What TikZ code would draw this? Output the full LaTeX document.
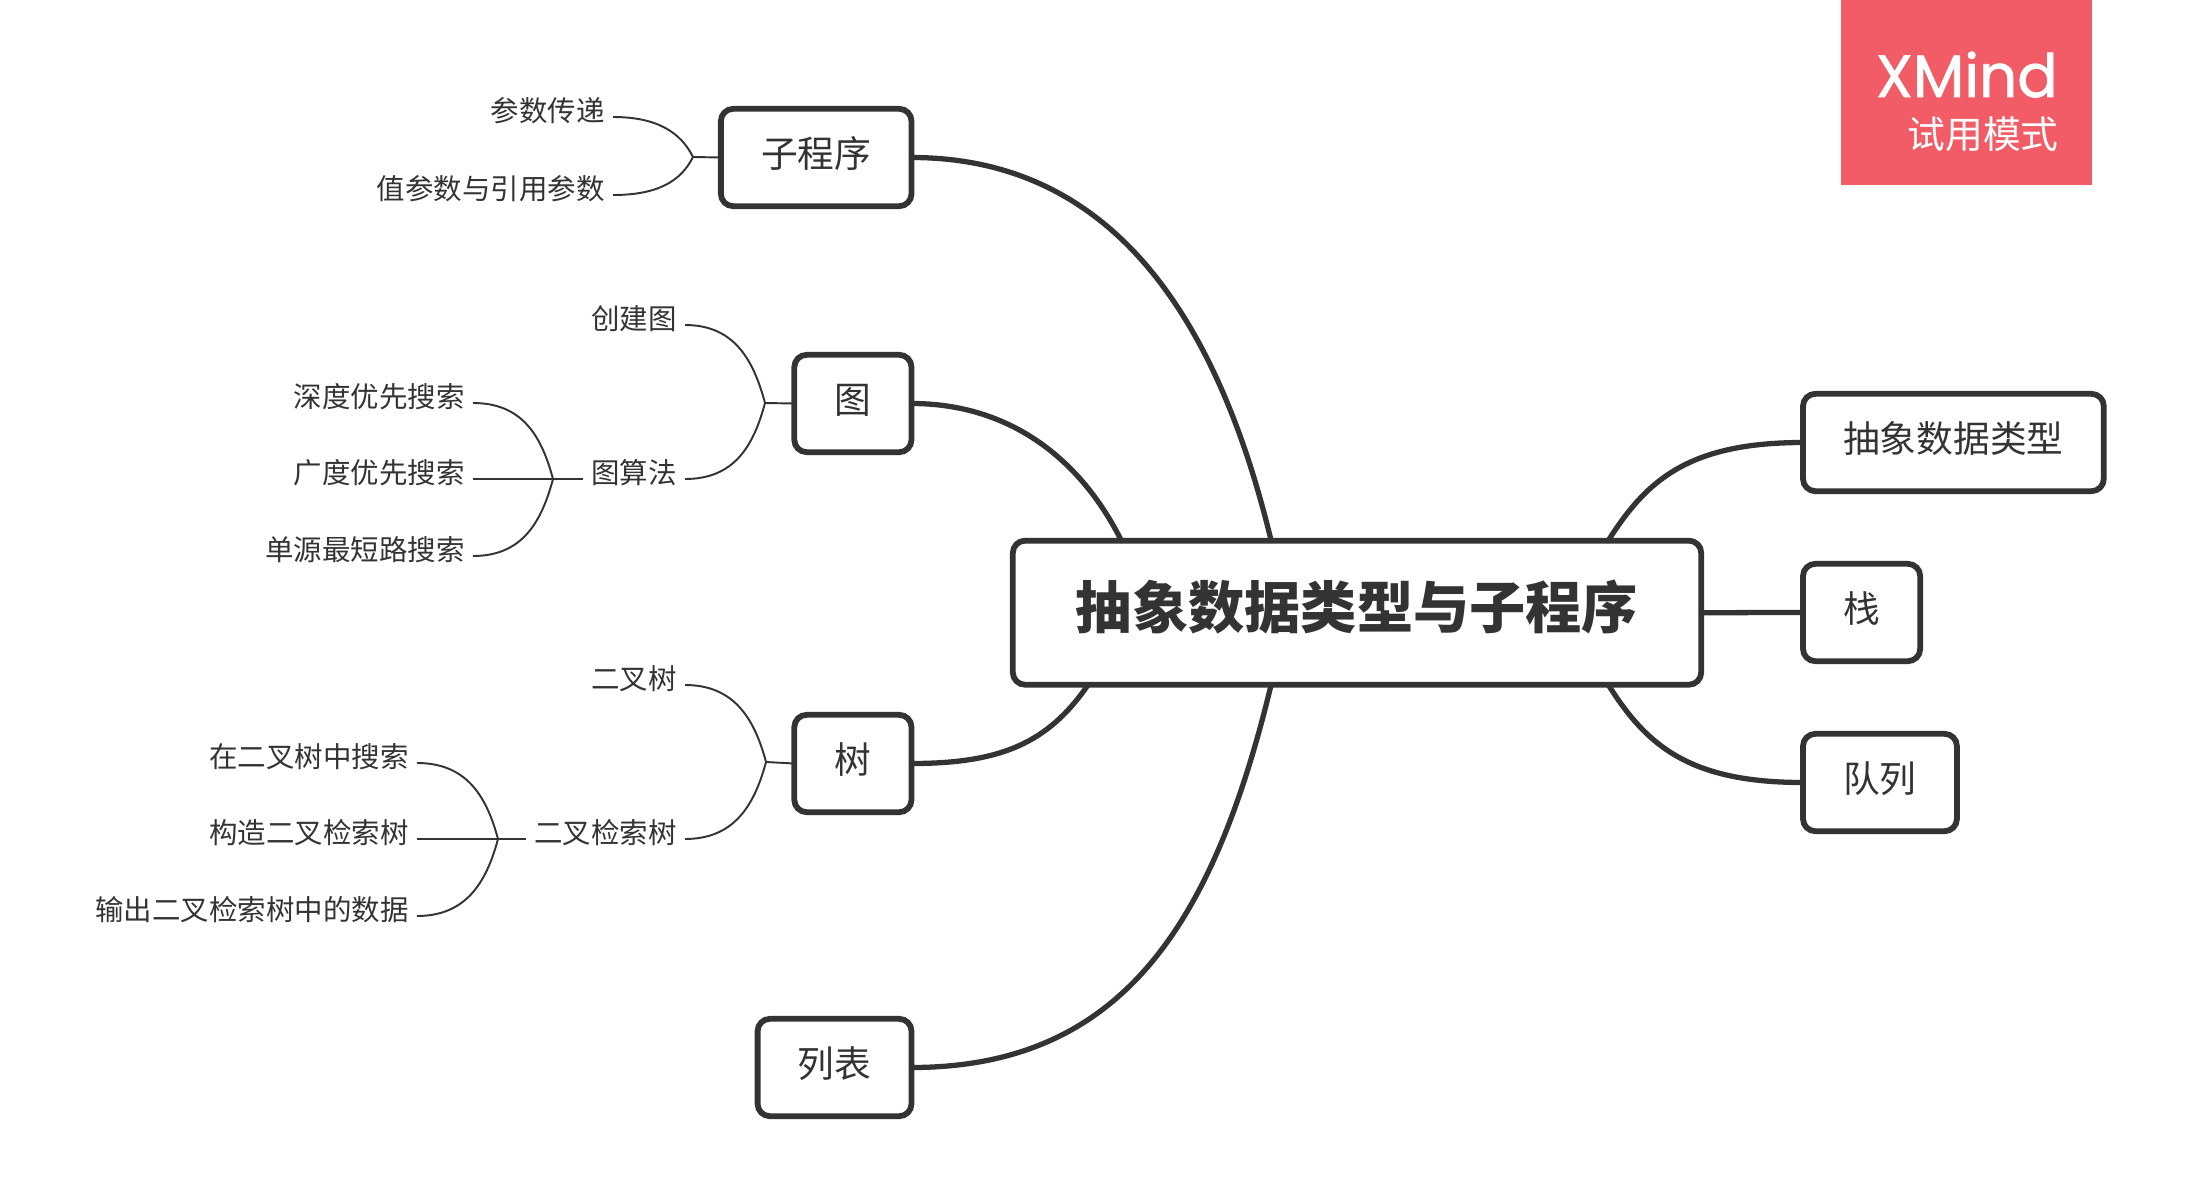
\documentclass[tikz,border=0pt]{standalone}
\usepackage{fontspec}
\setmainfont{Noto Sans CJK SC}
\newfontfamily\logofont[FakeBold=1.2]{Poppins}
\definecolor{inkgray}{HTML}{333333}
\definecolor{badgered}{HTML}{F25C66}
\tikzset{
  rootbox/.style={draw=inkgray, line width=3.3pt, rounded corners=7pt, fill=white, outer sep=0pt,
    inner xsep=35.9pt, inner ysep=0pt, minimum height=82pt, text height=24.4pt, text depth=6.6pt,
    text=inkgray, font=\fontsize{32}{32}\selectfont\bfseries},
  topic/.style={draw=inkgray, line width=3.3pt, rounded corners=7pt, fill=white, outer sep=0pt,
    inner xsep=22.9pt, inner ysep=0pt, minimum height=55.4pt, text height=15.7pt, text depth=4.3pt,
    text=inkgray, font=\fontsize{20.9}{21}\selectfont},
  leaf/.style={inner xsep=4.8pt, inner ysep=0pt, outer sep=0pt, text height=11pt, text depth=5.6pt,
    text=inkgray, font=\fontsize{16.2}{16}\selectfont},
  thickedge/.style={draw=inkgray, line width=3pt, line cap=round},
  thinedge/.style={draw=inkgray, line width=1.1pt}
}
\begin{document}
\begin{tikzpicture}[x=0.02cm, y=-0.02cm]
  \useasboundingbox (0,0) rectangle (2187,1203);

  % Coordinates
  \coordinate (jSub) at (693,157);
  \coordinate (jGraph) at (765,403);
  \coordinate (jAlgo) at (553,479);
  \coordinate (jTree) at (766,762);
  \coordinate (jBst) at (498,839);

  % Badge
  \node (badge) [fill=badgered, minimum width=143pt, minimum height=105.3pt, anchor=north west, inner sep=0pt, outer sep=0pt] at (1841,0) {};
  \node (badgeName) [anchor=base east, inner sep=0pt, text=white, font=\fontsize{34}{34}\logofont] at (2058,97) {XMind};
  \node (badgeMode) [anchor=base east, inner sep=0pt, text=white, font=\fontsize{21.5}{22}\selectfont] at (2059,149) {试用模式};

  % Boxes
  \node (root) [rootbox] at (1357,612.7) {抽象数据类型与子程序};
  \node (sub) [topic, anchor=east] at (911.5,157.5) {子程序};
  \node (graph) [topic, anchor=east] at (911.5,403.5) {图};
  \node (tree) [topic, anchor=east] at (911.5,763.5) {树};
  \node (list) [topic, anchor=east] at (911.5,1067.5) {列表};
  \node (adt) [topic, anchor=west] at (1803,442.5) {抽象数据类型};
  \node (stack) [topic, anchor=west] at (1803,612.5) {栈};
  \node (queue) [topic, anchor=west] at (1803,782.5) {队列};

  % Leaves
  \node (param) [leaf, anchor=east] at (613,117) {参数传递};
  \node (valref) [leaf, anchor=east] at (613,195) {值参数与引用参数};
  \node (create) [leaf, anchor=east] at (685,325) {创建图};
  \node (algo) [leaf, anchor=east] at (685,479) {图算法};
  \node (dfs) [leaf, anchor=east] at (473,403) {深度优先搜索};
  \node (bfs) [leaf, anchor=east] at (473,479) {广度优先搜索};
  \node (path) [leaf, anchor=east] at (473,556) {单源最短路搜索};
  \node (bintree) [leaf, anchor=east] at (685,685) {二叉树};
  \node (bst) [leaf, anchor=east] at (685,839) {二叉检索树};
  \node (search) [leaf, anchor=east] at (417,763) {在二叉树中搜索};
  \node (build) [leaf, anchor=east] at (417,839) {构造二叉检索树};
  \node (output) [leaf, anchor=east] at (417,916) {输出二叉检索树中的数据};

  % Main branches
  \draw[thickedge] (sub.east) .. controls +(190,0) and +(-58,-240) .. (root.140);
  \draw[thickedge] (graph.east) .. controls +(100,0) and +(-40,-80) .. (root.163.8);
  \draw[thickedge] (tree.east) .. controls +(90,0) and +(-40,58) .. (root.195.7);
  \draw[thickedge] (list.east) .. controls +(210,0) and +(-58,240) .. (root.220);
  \draw[thickedge] (adt.west) .. controls +(-115,0) and +(38,-60) .. (root.16);
  \draw[thickedge] (root.east) -- (stack.west);
  \draw[thickedge] (queue.west) .. controls +(-115,0) and +(38,60) .. (root.-16);

  % Sub branches
  \draw[thinedge] (sub.west) -- (jSub);
  \draw[thinedge] (param.east) .. controls +(45,0) and +(-12,-24) .. (jSub);
  \draw[thinedge] (valref.east) .. controls +(45,0) and +(-12,24) .. (jSub);
  \draw[thinedge] (graph.west) -- (jGraph);
  \draw[thinedge] (create.east) .. controls +(48,0) and +(-12,-45) .. (jGraph);
  \draw[thinedge] (algo.east) .. controls +(48,0) and +(-12,45) .. (jGraph);
  \draw[thinedge] (algo.west) -- (bfs.east);
  \draw[thinedge] (dfs.east) .. controls +(48,0) and +(-12,-45) .. (jAlgo);
  \draw[thinedge] (path.east) .. controls +(48,0) and +(-12,45) .. (jAlgo);
  \draw[thinedge] (tree.west) -- (jTree);
  \draw[thinedge] (bintree.east) .. controls +(48,0) and +(-12,-45) .. (jTree);
  \draw[thinedge] (bst.east) .. controls +(48,0) and +(-12,45) .. (jTree);
  \draw[thinedge] (bst.west) -- (build.east);
  \draw[thinedge] (search.east) .. controls +(48,0) and +(-12,-45) .. (jBst);
  \draw[thinedge] (output.east) .. controls +(48,0) and +(-12,45) .. (jBst);
\end{tikzpicture}
\end{document}
